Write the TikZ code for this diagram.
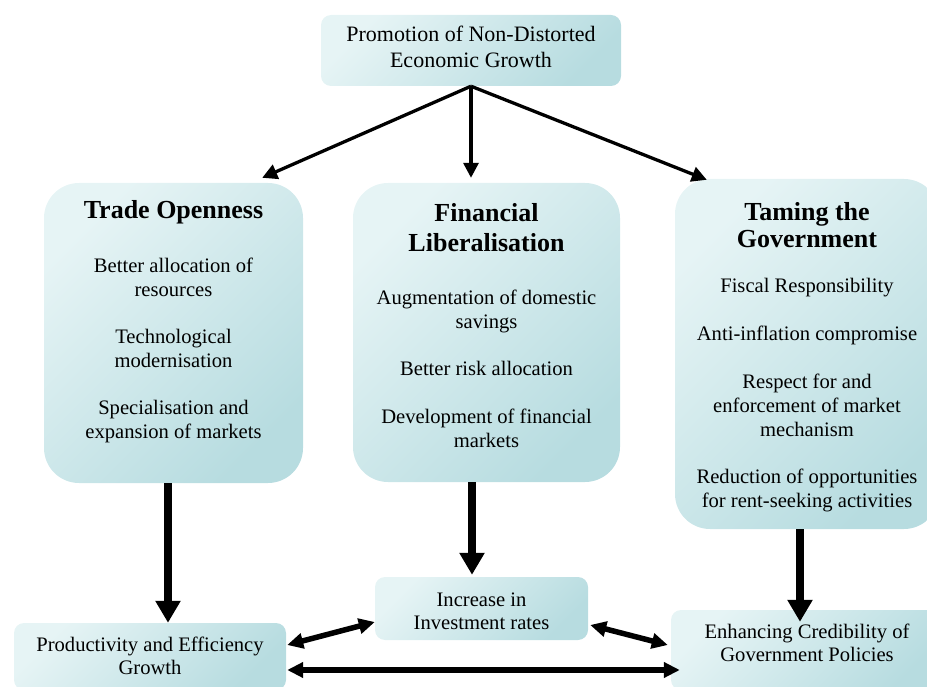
\documentclass[tikz,border=0pt]{standalone}
\usepackage{fontspec}
\setmainfont{Liberation Serif}
\usetikzlibrary{arrows.meta,positioning}

\definecolor{boxlight}{RGB}{230,244,245}
\definecolor{boxdark}{RGB}{183,220,224}

\tikzset{
	bigbox/.style={rounded corners=35pt, inner sep=0pt, top color=boxlight, bottom color=boxdark, shading angle=45},
	smallbox/.style={rounded corners=10pt, inner sep=0pt, top color=boxlight, bottom color=boxdark, shading angle=45},
	toptext/.style={align=center, inner sep=0pt, font=\fontsize{22}{26}\selectfont},
	headtext/.style={align=center, inner sep=0pt, font=\bfseries\fontsize{26}{28}\selectfont},
	bodytext/.style={align=center, inner sep=0pt, font=\fontsize{20.6}{24}\selectfont},
	boxtext/.style={align=center, inner sep=0pt, font=\fontsize{20.6}{23}\selectfont},
	thinarrow/.style={line width=3.3pt, -{Triangle[length=15pt,width=15pt]}},
	thickarrow/.style={line width=8pt, -{Triangle[length=22pt,width=24pt]}},
	linkarrow/.style={line width=5.5pt, {Triangle[length=16pt,width=15pt]}-{Triangle[length=16pt,width=15pt]}}
}

\begin{document}
\begin{tikzpicture}[x=1pt, y=-1pt]
	%%%%% START %%%%%
	\useasboundingbox (0,0) rectangle (927,687);
	
	% boxes
	\node[smallbox, minimum width=300pt, minimum height=71pt] (top) at (471,50.5) {};
	\node[bigbox, minimum width=259pt, minimum height=300pt] (trade) at (173.5,333) {};
	\node[bigbox, minimum width=267pt, minimum height=299pt] (fin) at (486.5,332.5) {};
	\node[bigbox, minimum width=264pt, minimum height=350pt] (gov) at (807,354) {};
	\node[smallbox, minimum width=272pt, minimum height=67pt] (prod) at (150,656.5) {};
	\node[smallbox, minimum width=213pt, minimum height=63pt] (inv) at (481.5,608.5) {};
	\node[smallbox, minimum width=272pt, minimum height=80pt] (cred) at (807,650) {};
	
	% arrows out of the top box
	\draw[thinarrow] (top.south) -- ([xshift=-41pt,yshift=5pt]trade.north east);
	\draw[thinarrow, shorten >=5pt] (top.south) -- (top.south |- fin.north);
	\draw[thinarrow] (top.south) -- ([xshift=32pt,yshift=-1pt]gov.north west);
	
	% down to the bottom row
	\draw[thickarrow] ([xshift=-5.5pt]trade.south) -- ([xshift=-5.5pt]trade.south |- prod.north);
	\draw[thickarrow] ([xshift=-14.5pt]fin.south) -- ([xshift=-14.5pt,yshift=2pt]fin.south |- inv.north);
	\draw[thickarrow] ([xshift=-7pt]gov.south) -- ([xshift=-7pt,yshift=-12pt]gov.south |- cred.north);
	
	% links between the bottom boxes
	\draw[linkarrow] ([xshift=1pt,yshift=11.5pt]prod.east) -- ([yshift=-13.5pt]inv.west);
	\draw[linkarrow] ([xshift=2pt,yshift=-16.5pt]inv.east) -- ([xshift=-3pt,yshift=5pt]cred.west);
	\draw[linkarrow] ([xshift=1pt,yshift=-13.5pt]prod.east) -- ([xshift=9pt,yshift=-13.5pt]prod.east -| cred.west);
	
	% texts
	\node[toptext] (toplbl) at (471,46.5) {Promotion of Non-Distorted\\Economic Growth};
	
	\node[headtext] (tradehead) at (173.5,212) {Trade Openness};
	\node[bodytext] (tradebody) at (173.5,350) {Better allocation of\\resources\\[23pt]Technological\\modernisation\\[23pt]Specialisation and\\expansion of markets};
	
	\node[headtext, font=\bfseries\fontsize{26}{30}\selectfont] (finhead) at (486.5,228) {Financial\\Liberalisation};
	\node[bodytext] (finbody) at (486.5,368.5) {Augmentation of domestic\\savings\\[23pt]Better risk allocation\\[24pt]Development of financial\\markets};
	
	\node[headtext, font=\bfseries\fontsize{26}{27}\selectfont] (govhead) at (807,225) {Taming the\\Government};
	\node[bodytext] (govbody) at (807,395.5) {Fiscal Responsibility\\[24pt]Anti-inflation compromise\\[24pt]Respect for and\\enforcement of market\\mechanism\\[23pt]Reduction of opportunities\\for rent-seeking activities};
	
	\node[boxtext] (prodlbl) at (150,656) {Productivity and Efficiency\\Growth};
	\node[boxtext] (invlbl) at (481.5,611.5) {Increase in\\Investment rates};
	\node[boxtext] (credlbl) at (807,642.5) {Enhancing Credibility of\\Government Policies};
	
	%%%%% END %%%%%
\end{tikzpicture}
\end{document}
